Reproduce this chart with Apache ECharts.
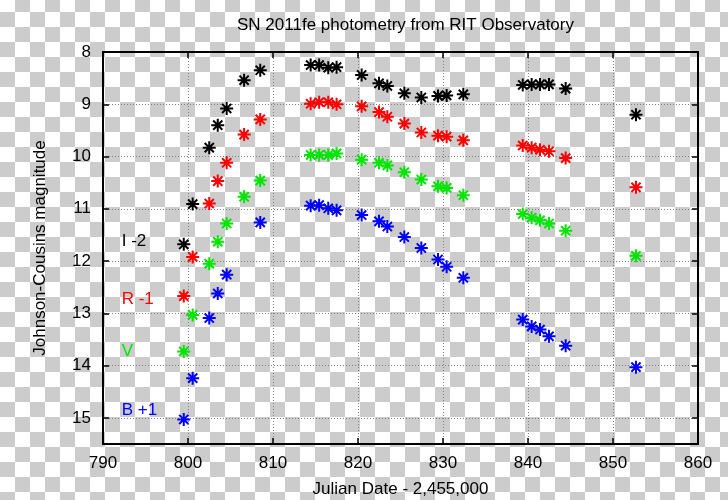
<!DOCTYPE html>
<html>
<head>
<meta charset="utf-8">
<script src="https://cdn.jsdelivr.net/npm/echarts@6/dist/echarts.min.js"></script>
<style>
html,body{margin:0;padding:0;}
#chart{width:728px;height:500px;
  background: repeating-conic-gradient(#cccccc 0% 25%, #ffffff 0% 50%) 0px -3px / 30px 30px;}
</style>
</head>
<body>
<div id="chart"></div>
<script>
// Julian Date - 2,455,000
const jd = [799.5, 800.55, 802.5, 803.5, 804.55, 806.6, 808.5,
  814.43, 815.43, 816.5, 817.48, 820.43, 822.47, 823.45, 825.45, 827.45,
  829.41, 830.43, 832.39, 839.38, 840.43, 841.41, 842.47, 844.43, 852.7];
// plotted magnitudes (with offsets applied)
const magI = [11.68, 10.91, 9.83, 9.40, 9.08, 8.54, 8.35,
  8.25, 8.25, 8.30, 8.29, 8.44, 8.60, 8.65, 8.79, 8.87,
  8.84, 8.83, 8.81, 8.63, 8.62, 8.62, 8.62, 8.70, 9.20];
const magR = [12.67, 11.92, 10.90, 10.47, 10.12, 9.58, 9.29,
  8.99, 8.96, 8.96, 9.00, 9.04, 9.15, 9.24, 9.37, 9.54,
  9.60, 9.62, 9.69, 9.79, 9.83, 9.87, 9.90, 10.03, 10.59];
const magV = [13.73, 13.03, 12.05, 11.63, 11.28, 10.77, 10.46,
  9.97, 9.97, 9.97, 9.94, 10.06, 10.12, 10.17, 10.30, 10.44,
  10.57, 10.60, 10.74, 11.10, 11.17, 11.22, 11.28, 11.42, 11.90];
const magB = [15.03, 14.24, 13.09, 12.62, 12.26, null, 11.26,
  10.94, 10.93, 10.99, 11.03, 11.12, 11.24, 11.34, 11.54, 11.75,
  11.97, 12.11, 12.32, 13.12, 13.25, 13.31, 13.44, 13.62, 14.03];
const bandNames = ['I -2', 'R -1', 'V', 'B +1'];
const bandColors = ['#000000', '#ff0000', '#00e600', '#0000ff'];
const bandLabelPos = [[792.2, 11.63], [792.2, 12.73], [792.2, 13.73], [792.2, 14.85]];
const xTicks = [790, 800, 810, 820, 830, 840, 850, 860];
const yTicks = [8, 9, 10, 11, 12, 13, 14, 15];

const FONT = '"Liberation Sans", Arial, Helvetica, sans-serif';
const STAR = 'path://M0,6L12,6M6,0L6,12M1.76,1.76L10.24,10.24M10.24,1.76L1.76,10.24';

const chart = echarts.init(document.getElementById('chart'), null, {renderer: 'canvas'});

function mk(arr) {
  const out = [];
  jd.forEach((x, i) => { if (arr[i] != null) out.push([x, arr[i]]); });
  return out;
}
const mags = [magI, magR, magV, magB];

const axisLineStyle = {color: '#000', width: 2};
const tickStyle = {color: '#000', width: 1.5};

chart.setOption({
  backgroundColor: 'transparent',
  animation: false,
  textStyle: {fontFamily: FONT},
  title: {
    text: 'SN 2011fe photometry from RIT Observatory',
    left: 400.5, textAlign: 'center', top: 12,
    textStyle: {fontFamily: FONT, fontSize: 17, fontWeight: 'normal', color: '#000'}
  },
  grid: {left: 103, right: 30, top: 52, bottom: 56, containLabel: false, outerBoundsMode: 'none'},
  xAxis: [{
    type: 'value', min: xTicks[0], max: xTicks[xTicks.length - 1], interval: 10,
    position: 'bottom',
    name: 'Julian Date - 2,455,000', nameLocation: 'middle', nameGap: 37,
    nameTextStyle: {fontFamily: FONT, fontSize: 17, color: '#000'},
    axisLine: {show: true, lineStyle: axisLineStyle},
    axisTick: {show: true, inside: true, length: 6, lineStyle: tickStyle},
    axisLabel: {fontFamily: FONT, fontSize: 17, color: '#000', margin: 11},
    splitLine: {show: true, lineStyle: {color: '#808080', width: 1, type: [1, 2]}}
  }, {
    type: 'value', min: xTicks[0], max: xTicks[xTicks.length - 1], interval: 10,
    position: 'top',
    axisLine: {show: true, lineStyle: axisLineStyle},
    axisTick: {show: true, inside: true, length: 6, lineStyle: tickStyle},
    axisLabel: {show: false}, splitLine: {show: false}
  }],
  yAxis: [{
    type: 'value', min: yTicks[0], max: 15.5, interval: 1, inverse: true,
    position: 'left',
    name: 'Johnson-Cousins magnitude', nameLocation: 'middle', nameGap: 54,
    nameTextStyle: {fontFamily: FONT, fontSize: 17, color: '#000'},
    axisLine: {show: true, lineStyle: axisLineStyle},
    axisTick: {show: true, inside: true, length: 6, lineStyle: tickStyle},
    axisLabel: {fontFamily: FONT, fontSize: 17, color: '#000', margin: 12,
      formatter: v => (yTicks.indexOf(v) >= 0 ? String(v) : '')},
    splitLine: {show: true, lineStyle: {color: '#808080', width: 1, type: [1, 2]}}
  }, {
    type: 'value', min: yTicks[0], max: 15.5, interval: 1, inverse: true,
    position: 'right',
    axisLine: {show: true, lineStyle: axisLineStyle},
    axisTick: {show: true, inside: true, length: 6, lineStyle: tickStyle},
    axisLabel: {show: false}, splitLine: {show: false}
  }],
  series: mags.map((arr, k) => ({
    type: 'scatter', name: bandNames[k], xAxisIndex: 0, yAxisIndex: 0,
    symbol: STAR, symbolSize: 13,
    itemStyle: {color: bandColors[k], borderColor: bandColors[k], borderWidth: 2, opacity: 1},
    data: mk(arr), z: 5
  }))
});

const g = bandNames.map((name, k) => {
  const p = chart.convertToPixel({xAxisIndex: 0, yAxisIndex: 0}, bandLabelPos[k]);
  return {
    type: 'text', x: p[0], y: p[1], z: 10,
    style: {text: name, fill: bandColors[k], font: '17px ' + FONT,
      textAlign: 'left', textVerticalAlign: 'middle'}
  };
});
chart.setOption({graphic: g});
</script>
</body>
</html>
